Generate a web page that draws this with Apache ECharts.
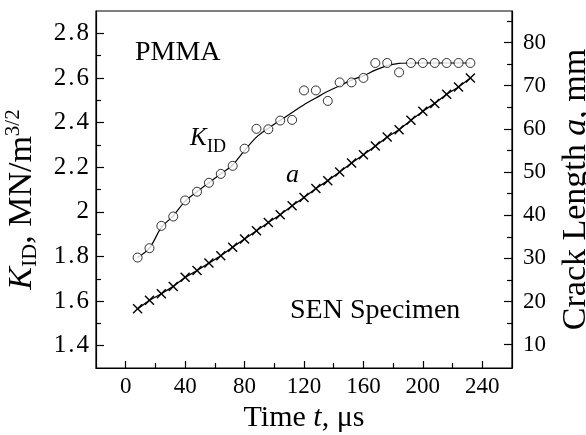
<!DOCTYPE html>
<html><head><meta charset="utf-8">
<script src="https://cdn.jsdelivr.net/npm/echarts@6/dist/echarts.min.js"></script>
<style>html,body{margin:0;padding:0;background:#fff}#c{width:586px;height:435px}</style>
</head><body><div id="c"></div>
<script>
// ---- data ----
const timeUs = [8,16,24,32,40,48,56,64,72,80,88,96,104,112,120,128,136,144,152,160,168,176,184,192,200,208,216,224,232];
const kidMeasured = [1.795,1.837,1.937,1.979,2.051,2.09,2.13,2.17,2.206,2.283,2.372,2.37,2.409,2.412,2.544,2.544,2.497,2.58,2.58,2.60,2.667,2.667,2.625,2.667,2.667,2.667,2.667,2.667,2.667];
const kidFit = [1.795,1.837,1.930,1.982,2.048,2.09,2.13,2.17,2.21,2.275,2.335,2.375,2.41,2.445,2.48,2.51,2.54,2.565,2.59,2.61,2.635,2.655,2.665,2.667,2.667,2.667,2.667,2.667,2.667];
const crackLengthMm = [18.3,20.3,21.8,23.5,25.6,27.2,28.9,30.6,32.6,34.5,36.4,38.3,40.1,42.2,44.1,46.2,48.0,50.0,52.1,54.0,56.0,58.1,59.8,62.0,64.1,65.9,68.0,69.7,71.8];
const xMajorTicks = [0,40,80,120,160,200,240];
const xMinorTicks = [20,60,100,140,180,220];
const kMajorTicks = [1.4,1.6,1.8,2,2.2,2.4,2.6,2.8];
const kMinorTicks = [1.5,1.7,1.9,2.1,2.3,2.5,2.7];
const aMajorTicks = [10,20,30,40,50,60,70,80];
const aMinorTicks = [15,25,35,45,55,65,75,85];

const FONT = '"Liberation Serif","DejaVu Serif",serif';
const pair = (xs, ys) => xs.map((x, i) => [x, ys[i]]);
const crossPath = 'path://M0,1L1,0L5,4L9,0L10,1L6,5L10,9L9,10L5,6L1,10L0,9L4,5Z';

const chart = echarts.init(document.getElementById('c'), null, {renderer: 'canvas'});
const lbl = {color: '#000', fontFamily: FONT, fontSize: 23};
const blk = {color: '#000', width: 1.2};

chart.setOption({
  animation: false,
  backgroundColor: '#fff',
  grid: {left: 96, right: 74, top: 11, bottom: 67, show: true, borderColor: '#000', borderWidth: 1.2,
         containLabel: false, outerBoundsMode: 'none'},
  xAxis: [
    {type: 'value', min: -20, max: 260, interval: 20, position: 'bottom',
     axisLine: {show: true, onZero: false, lineStyle: blk},
     axisTick: {show: true, inside: true, length: 7, lineStyle: blk, customValues: xMajorTicks},
     axisLabel: Object.assign({margin: 7, customValues: xMajorTicks}, lbl),
     splitLine: {show: false},
     name: 'Time {i|t}, μs', nameLocation: 'middle', nameGap: 31,
     nameTextStyle: {color: '#000', fontFamily: FONT, fontSize: 30, rich: {i: {fontStyle: 'italic', fontFamily: FONT, fontSize: 30, color: '#000'}}}},
    {type: 'value', min: -20, max: 260, position: 'bottom',
     axisLine: {show: false, onZero: false}, axisLabel: {show: false}, splitLine: {show: false},
     axisTick: {show: true, inside: true, length: 5, lineStyle: blk, customValues: xMinorTicks}}
  ],
  yAxis: [
    {type: 'value', min: 1.3, max: 2.9, position: 'left',
     axisLine: {show: true, onZero: false, lineStyle: blk},
     axisTick: {show: true, inside: true, length: 8, lineStyle: blk, customValues: kMajorTicks},
     axisLabel: {margin: 7, customValues: kMajorTicks, color: '#000', fontFamily: FONT, fontSize: 25,
       formatter: v => String(Math.round(v * 10) / 10).replace('.', '{p|.}'),
       rich: {p: {color: '#000', fontFamily: FONT, fontSize: 25, padding: [0, 2, 0, 2]}}},
     splitLine: {show: false},
     name: '{k|K}{s|ID}{n|, MN/m}{p|3/2}', nameLocation: 'middle', nameRotate: 90, nameGap: 55,
     nameTextStyle: {color: '#000', fontFamily: FONT, fontSize: 34, padding: [0, 20, 0, 0],
       rich: {
         k: {fontStyle: 'italic', fontFamily: FONT, fontSize: 34, color: '#000', lineHeight: 38, verticalAlign: 'middle'},
         s: {fontFamily: FONT, fontSize: 22, color: '#000', lineHeight: 22, verticalAlign: 'bottom'},
         n: {fontFamily: FONT, fontSize: 34, color: '#000', lineHeight: 38, verticalAlign: 'middle'},
         p: {fontFamily: FONT, fontSize: 21, color: '#000', lineHeight: 21, verticalAlign: 'top'}
       }}},
    {type: 'value', min: 1.3, max: 2.9, position: 'left',
     axisLine: {show: false, onZero: false}, axisLabel: {show: false}, splitLine: {show: false},
     axisTick: {show: true, inside: true, length: 5, lineStyle: blk, customValues: kMinorTicks}},
    {type: 'value', min: 4.6, max: 87.3, position: 'right',
     axisLine: {show: true, onZero: false, lineStyle: blk},
     axisTick: {show: true, inside: true, length: 8, lineStyle: blk, customValues: aMajorTicks},
     axisLabel: Object.assign({margin: 11, customValues: aMajorTicks}, lbl),
     splitLine: {show: false},
     name: 'Crack Length {i|a}, mm', nameLocation: 'middle', nameRotate: 90, nameGap: 47,
     nameTextStyle: {color: '#000', fontFamily: FONT, fontSize: 34, rich: {i: {fontStyle: 'italic', fontFamily: FONT, fontSize: 34, color: '#000'}}}},
    {type: 'value', min: 4.6, max: 87.3, position: 'right',
     axisLine: {show: false, onZero: false}, axisLabel: {show: false}, splitLine: {show: false},
     axisTick: {show: true, inside: true, length: 5, lineStyle: blk, customValues: aMinorTicks}}
  ],
  series: [
    {type: 'line', name: 'KID fit', xAxisIndex: 0, yAxisIndex: 0, data: pair(timeUs, kidFit),
     showSymbol: false, smooth: 0.3, lineStyle: {color: '#000', width: 1.2}, z: 2},
    {type: 'scatter', name: 'KID', xAxisIndex: 0, yAxisIndex: 0, data: pair(timeUs, kidMeasured),
     symbol: 'circle', symbolSize: 9, itemStyle: {color: '#fff', borderColor: '#000', borderWidth: 1}, z: 3},
    {type: 'line', name: 'a', xAxisIndex: 0, yAxisIndex: 2, data: pair(timeUs, crackLengthMm),
     symbol: crossPath, symbolSize: 10, showSymbol: true,
     itemStyle: {color: '#000'}, lineStyle: {color: '#000', width: 1.3}, z: 2}
  ],
  graphic: [
    {type: 'text', x: 135, y: 53, style: {text: 'PMMA', font: '28px ' + FONT, fill: '#000', textAlign: 'left', textVerticalAlign: 'middle', align: 'left', verticalAlign: 'middle'}},
    {type: 'text', x: 190, y: 138, style: {text: 'K', font: 'italic 25px ' + FONT, fill: '#000', textAlign: 'left', textVerticalAlign: 'middle', align: 'left', verticalAlign: 'middle'}},
    {type: 'text', x: 207, y: 147, style: {text: 'ID', font: '18px ' + FONT, fill: '#000', textAlign: 'left', textVerticalAlign: 'middle', align: 'left', verticalAlign: 'middle'}},
    {type: 'text', x: 286, y: 175, style: {text: 'a', font: 'italic 26px ' + FONT, fill: '#000', textAlign: 'left', textVerticalAlign: 'middle', align: 'left', verticalAlign: 'middle'}},
    {type: 'text', x: 290, y: 311, style: {text: 'SEN Specimen', font: '28px ' + FONT, fill: '#000', textAlign: 'left', textVerticalAlign: 'middle', align: 'left', verticalAlign: 'middle'}}
  ]
});
</script>
</body></html>
